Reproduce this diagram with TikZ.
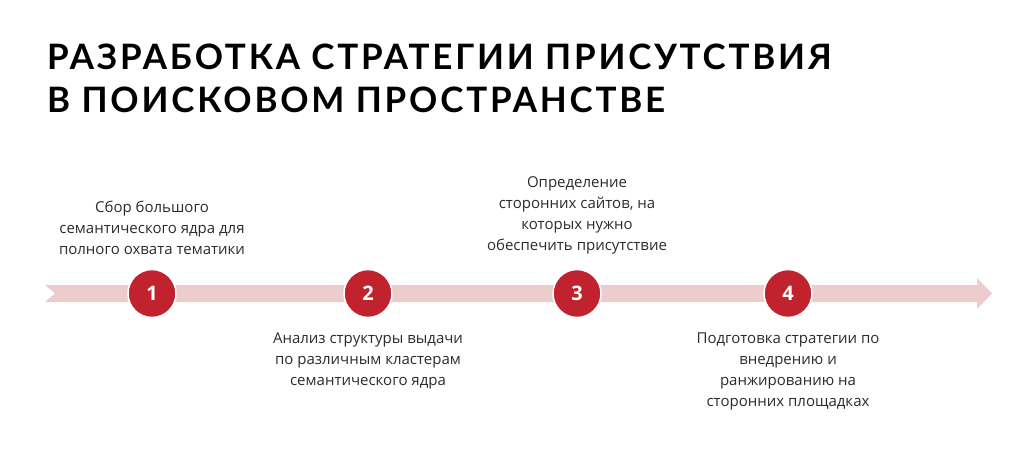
\documentclass[tikz,border=0pt]{standalone}
\usepackage{fontspec}
\setmainfont{Open Sans}
\newfontfamily\titlefont[LetterSpace=8]{Lato}
\usetikzlibrary{positioning}
\definecolor{bandpink}{HTML}{EDCCCD}
\definecolor{stepred}{HTML}{C1232E}
\definecolor{textgray}{HTML}{2B2B2B}

\begin{document}
\begin{tikzpicture}[x=1pt, y=-1pt,
    stepdot/.style={circle, fill=stepred, draw=white, line width=1.5pt, minimum size=48pt, inner sep=0pt,
                    text=white, font=\bfseries\fontsize{20}{20}\selectfont},
    steptext/.style={align=center, inner sep=0pt, text=textgray, font=\fontsize{15}{21}\selectfont},
    headline/.style={anchor=base west, inner sep=0pt, text=black, font=\titlefont\bfseries\fontsize{35}{43}\selectfont}]
    \useasboundingbox (0,0) rectangle (1024,465);
    \node[headline] (ttl1) at (47,70) {РАЗРАБОТКА СТРАТЕГИИ ПРИСУТСТВИЯ};
    \node[headline] (ttl2) at (47,113) {В ПОИСКОВОМ ПРОСТРАНСТВЕ};
    % timeline band
    \fill[bandpink] (45,285) -- (977,285) -- (977,278) -- (992,293.5) -- (977,309) -- (977,302)
        -- (45,302) -- (55,293.5) -- cycle;
    \foreach \n/\x in {1/152, 2/368, 3/577, 4/788}
        \node[stepdot] (c\n) at (\x,293.5) {\n};
    \node[steptext, above=14pt of c1] (t1) {Сбор большого\\семантического ядра для\\полного охвата тематики};
    \node[steptext, below=14pt of c2] (t2) {Анализ структуры выдачи\\по различным кластерам\\семантического ядра};
    \node[steptext, above=14pt of c3] (t3) {Определение\\сторонних сайтов, на\\которых нужно\\обеспечить присутствие};
    \node[steptext, below=14pt of c4] (t4) {Подготовка стратегии по\\внедрению и\\ранжированию на\\сторонних площадках};
\end{tikzpicture}
\end{document}
